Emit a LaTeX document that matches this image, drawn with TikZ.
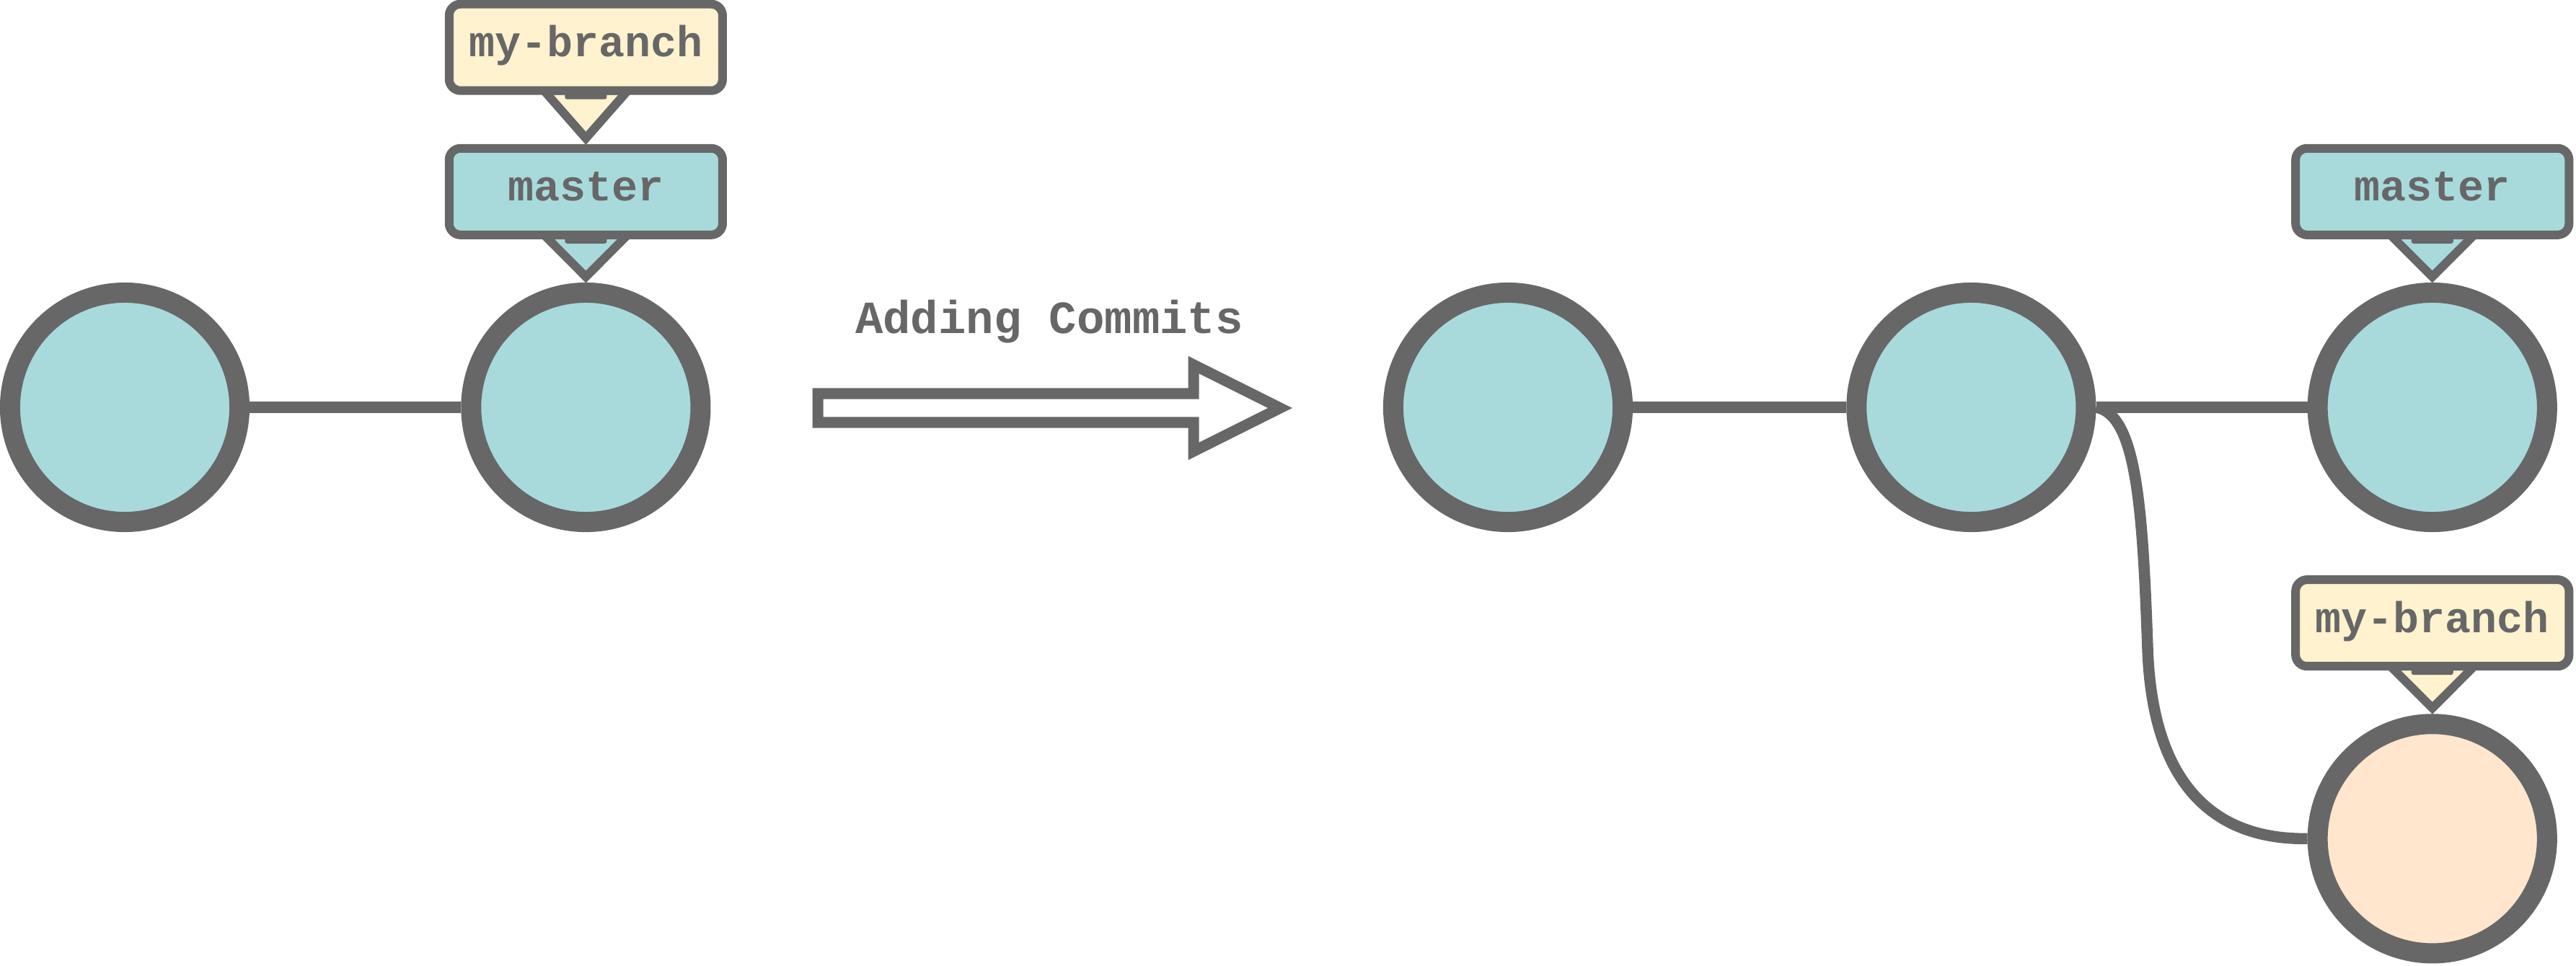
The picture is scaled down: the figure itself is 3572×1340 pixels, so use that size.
\documentclass[tikz,border=0pt]{standalone}
\usepackage{fontspec}
\setmonofont{Liberation Mono}
\usetikzlibrary{positioning,calc}
\definecolor{lineg}{HTML}{676767}
\definecolor{commitc}{HTML}{A8DADC}
\definecolor{labely}{HTML}{FFF2CE}
\definecolor{newc}{HTML}{FFE6CC}
\newcommand{\labelfont}{\ttfamily\bfseries\fontsize{17.07pt}{20pt}\selectfont}
\newcommand{\arrowfont}{\ttfamily\bfseries\fontsize{18.2pt}{22pt}\selectfont}
\pgfdeclarelayer{background}
\pgfsetlayers{background,main}
\tikzstyle{commit} = [circle, draw=lineg, line width=0.28cm, fill=commitc, minimum size=3.18cm, inner sep=0pt]
\tikzstyle{newcommit} = [commit, fill=newc]
\tikzstyle{branch} = [rectangle, draw=lineg, line width=0.12cm, rounded corners=0.16cm, minimum width=3.79cm, minimum height=1.2cm, inner sep=0pt, text=lineg, font=\labelfont, text height=0.4cm, text depth=0.14cm]
\tikzstyle{mybranch} = [branch, fill=labely]
\tikzstyle{masterb} = [branch, fill=commitc]
\tikzstyle{link} = [draw=lineg, line width=0.155cm]
\tikzstyle{ptr} = [draw=lineg, line width=0.12cm, line join=miter]
\tikzstyle{bigarrow} = [draw=lineg, line width=0.15cm, line join=miter]
% pointer from a branch label down to its commit
\newcommand{\pointer}[3]{%
  \begin{pgfonlayer}{background}
    \draw[ptr, fill=#3] ($(#1.south)+(-58,-6)$) -- ($(#2.north)+(0,-8)$) -- ($(#1.south)+(58,-6)$) -- cycle;
  \end{pgfonlayer}
  \fill[lineg, rounded corners=0.03cm] ($(#1.south)+(-29,-4)$) rectangle ($(#1.south)+(29,6)$);
}
\begin{document}
\begin{tikzpicture}[x=0.01cm, y=-0.01cm]
   \useasboundingbox (0,0) rectangle (3572,1340);
   % Before
   \node [commit] (c1) at (173,565) {};
   \node [commit, right = 2.93cm of c1] (c2) {};
   \node [masterb, above = 0.6cm of c2] (m1) {master};
   \node [mybranch, above = 0.68cm of m1] (b1) {my-branch};
   \draw[link] (c1) -- (c2);
   \pointer{m1}{c2}{commitc}
   \pointer{b1}{m1}{labely}

   % Transition
   \node [text=lineg, font=\arrowfont, anchor=base] (add) at (1455,463) {Adding Commits};
   \draw[bigarrow, fill=white] (1134,546) -- (1655,546) -- (1655,506) -- (1775,566) -- (1655,626) -- (1655,586) -- (1134,586) -- cycle;

   % After
   \node [commit] (c3) at (2091,565) {};
   \node [commit, right = 2.96cm of c3] (c4) {};
   \node [commit, right = 2.93cm of c4] (c5) {};
   \node [newcommit, below = 2.52cm of c5] (c6) {};
   \node [masterb, above = 0.6cm of c5] (m2) {master};
   \node [mybranch, above = 0.6cm of c6] (b2) {my-branch};
   \draw[link] (c3) -- (c4);
   \draw[link] (c4) -- (c5);
   \draw[link] (c4.east) .. controls (2962,575) and (2971,700) .. (2978,900)
               .. controls (2985,1100) and (3080,1165) .. (c6.west);
   \pointer{m2}{c5}{commitc}
   \pointer{b2}{c6}{labely}
\end{tikzpicture}
\end{document}
